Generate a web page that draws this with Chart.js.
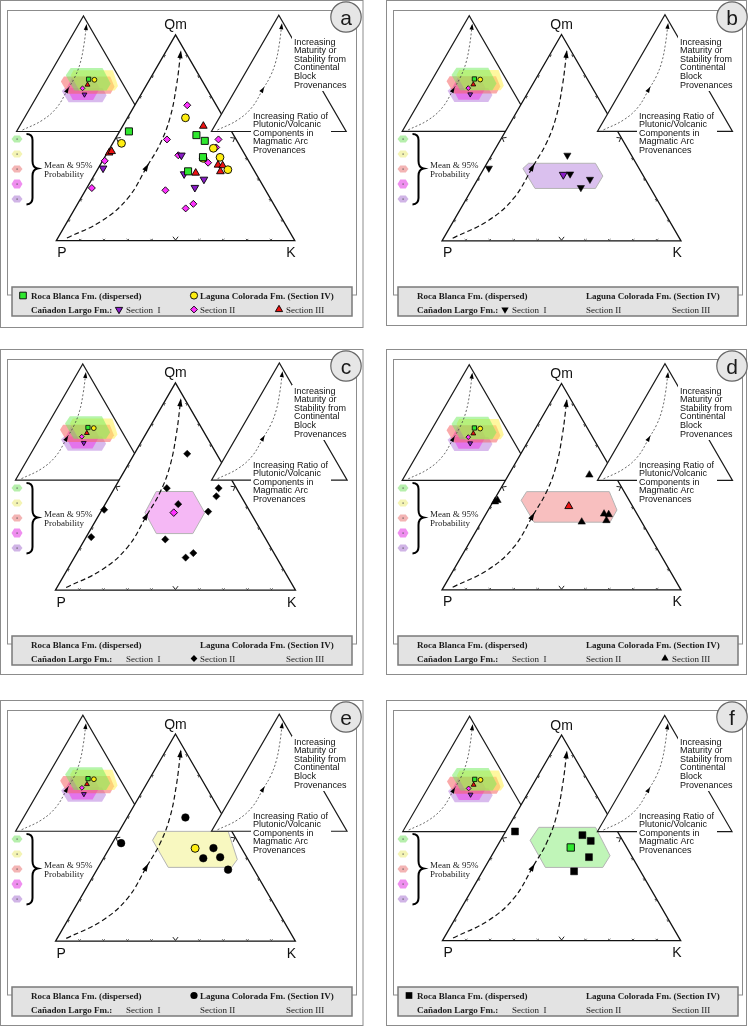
<!DOCTYPE html>
<html>
<head>
<meta charset="utf-8">
<title>Qm-P-K ternary diagrams</title>
<script src="https://cdn.jsdelivr.net/npm/chart.js@4.4.1/dist/chart.umd.min.js"></script>
<style>
html,body{margin:0;padding:0;background:#ffffff;width:748px;height:1027px;overflow:hidden;position:relative;}
canvas{position:absolute;display:block;}
</style>
</head>
<body>
<script>
// ---------------- DATA : compositions as [Qm, P, K] (%) ----------------
const rocaBlancaPts  = [[53.1,43.0,3.9],[51.3,15.6,33.1],[48.5,13.5,38.0],[40.6,18.2,41.2],[33.7,27.9,38.4]];
const rocaBlancaMean = [45.3,23.5,31.2];
const rocaBlancaHex  = [[55.1,32.0,12.9],[55.1,8.2,36.7],[41.3,9.0,49.7],[35.6,14.9,49.5],[35.6,39.0,25.4],[48.8,38.8,12.4]];

const lagunaPts  = [[59.7,16.0,24.3],[47.3,49.0,3.7],[44.9,11.7,43.4],[40.0,18.4,41.6],[40.5,11.1,48.4],[34.5,10.8,54.7]];
const lagunaMean = [44.8,19.4,35.8];
const lagunaHex  = [[53.0,30.9,16.1],[53.0,1.5,45.5],[39.4,4.5,56.1],[35.6,8.8,55.6],[35.6,35.2,29.2],[48.7,35.2,16.1]];

const sec1Pts  = [[35.2,62.8,2.0],[41.5,26.8,31.7],[32.4,30.2,37.4],[29.8,23.2,47.0],[25.8,29.0,45.2]];
const sec1Mean = [32.1,33.2,34.7];
const sec1Hex  = [[37.6,45.0,17.4],[37.6,17.0,45.4],[31.4,17.0,51.6],[25.4,23.1,51.5],[25.4,48.4,26.2],[35.1,48.6,16.3]];

const sec2Pts  = [[65.8,12.2,22.0],[49.2,29.0,21.8],[49.2,7.4,43.4],[45.3,10.3,44.4],[41.5,28.1,30.4],[37.9,17.4,44.7],[38.8,60.3,0.9],[25.6,72.3,2.1],[24.5,42.0,33.5],[17.9,33.6,48.5],[15.7,37.9,46.4]];
const sec2Mean = [37.4,32.0,30.6];
const sec2Hex  = [[47.6,34.2,18.2],[47.6,19.0,33.4],[37.4,19.1,43.5],[27.3,29.1,43.6],[27.3,44.3,28.4],[37.4,44.0,18.6]];

const sec3Pts  = [[55.7,10.5,33.8],[42.7,56.5,0.8],[43.4,55.1,1.5],[32.9,25.1,42.0],[36.8,13.8,49.4],[36.5,12.0,51.5],[33.6,14.4,52.0]];
const sec3Mean = [40.5,26.7,32.8];
const sec3Hex  = [[47.6,40.8,11.6],[47.6,6.2,46.2],[38.7,7.45,53.85],[32.8,13.3,53.9],[32.8,45.1,22.1],[43.4,45.2,11.4]];

// schematic maturity / plutonic-volcanic trend curve
const trendCurve = [[1.3,94.9,3.8],[9.8,75.8,14.4],[20.8,59.5,19.7],[36.4,43.6,20.0],[47.2,32.8,20.0],[59.8,22.4,17.8],[75.4,11.9,12.7],[91.8,1.9,6.3]];

const apexLabels   = ['Qm','P','K'];
const panelLabels  = ['a','b','c','d','e','f'];
const panelSeries  = [null,'I','II','III','IV','RB'];
const legendRow1   = ['Roca Blanca Fm. (dispersed)','Laguna Colorada Fm. (Section IV)'];
const legendRow2   = ['Cañadon Largo Fm.:','Section  I','Section II','Section III'];
const maturityText = ['Increasing','Maturity or','Stability from','Continental','Block','Provenances'];
const ratioText    = ['Increasing Ratio of','Plutonic/Volcanic','Components in','Magmatic Arc','Provenances'];
const meanText     = ['Mean & 95%','Probability'];

// ---------------- STYLE / LAYOUT ----------------
const SERIES = {
  RB:  {pts:rocaBlancaPts, mean:rocaBlancaMean, hex:rocaBlancaHex, style:'rect',     rot:0,   color:'#2fe82f', r:5.0, rb:4.9, rm:5.2, ri:3.0, rl:4.7,
        hexFill:'#c0f5b8', insetFill:'rgba(110,235,90,0.5)', swatch:'#b6efac', legend:[23,295.5]},
  IV:  {pts:lagunaPts, mean:lagunaMean, hex:lagunaHex, style:'circle', rot:0, color:'#ffee11', r:3.9, rb:3.8, rm:4.0, ri:2.4, rl:3.6,
        hexFill:'#f8f8c0', insetFill:'rgba(255,240,80,0.55)', swatch:'#f4f4b4', legend:[194,295.5]},
  III: {pts:sec3Pts, mean:sec3Mean, hex:sec3Hex, style:'triangle', rot:0, color:'#ee1111', r:4.4, rb:4.3, rm:4.6, ri:2.8, rl:4.2,
        hexFill:'#f8bfbf', insetFill:'rgba(245,100,100,0.55)', swatch:'#f3b4b4', legend:[279,309.5]},
  II:  {pts:sec2Pts, mean:sec2Mean, hex:sec2Hex, style:'rectRot', rot:0, color:'#ff33ff', r:3.5, rb:3.6, rm:3.8, ri:2.4, rl:3.4,
        hexFill:'#f5b8f5', insetFill:'rgba(235,70,235,0.6)', swatch:'#ef8eef', legend:[194,309.5]},
  I:   {pts:sec1Pts, mean:sec1Mean, hex:sec1Hex, style:'triangle', rot:180, color:'#8a1cc8', r:4.4, rb:4.2, rm:4.6, ri:2.8, rl:4.2,
        hexFill:'#dac0ee', insetFill:'rgba(190,140,225,0.6)', swatch:'#d0b4e6', legend:[119,309.5]}
};
const SWATCH_ORDER = ['RB','IV','III','II','I'];
const INSET_ORDER  = ['I','II','III','IV','RB'];
const A_ORDER      = {II:14, I:13, III:12, IV:11, RB:10};

const SQ = Math.sqrt(3)/2;
const CW = 386, CH = 350, PX0 = 52, PY0 = 243, TW = 246;
const XMIN = -PX0/TW, XMAX = (CW-PX0)/TW, YMIN = -(CH-PY0)/TW, YMAX = PY0/TW;
const INSET_L = {ox:(11-PX0)/TW,  oy:(PY0-130)/TW, s:138/TW};
const INSET_R = {ox:(212-PX0)/TW, oy:(PY0-130)/TW, s:139/TW};
const SANS  = '"Liberation Sans", Arial, sans-serif';
const SERIF = '"Liberation Serif", "Times New Roman", serif';
const panelPos = [[0,0],[386,0],[0,349],[386,349],[0,700],[386,700]];

function tern(v){ const s=v[0]+v[1]+v[2]; const q=v[0]/s, k=v[2]/s; return {x:k+q/2, y:q*SQ}; }
function inset(p,ins){ return {x:ins.ox+ins.s*p.x, y:ins.oy+ins.s*p.y}; }

function drawMarker(ctx, style, rot, x, y, r, fill, stroke, lw){
  ctx.beginPath();
  if(style==='circle'){ ctx.arc(x,y,r,0,Math.PI*2); }
  else if(style==='rect'){ const s=r*Math.SQRT1_2; ctx.rect(x-s,y-s,2*s,2*s); }
  else if(style==='rectRot'){ ctx.moveTo(x-r,y); ctx.lineTo(x,y-r); ctx.lineTo(x+r,y); ctx.lineTo(x,y+r); ctx.closePath(); }
  else { let a=rot*Math.PI/180; for(let i=0;i<3;i++){ const px=x+Math.sin(a)*r, py=y-Math.cos(a)*r; i?ctx.lineTo(px,py):ctx.moveTo(px,py); a+=2*Math.PI/3; } ctx.closePath(); }
  ctx.fillStyle=fill; ctx.fill();
  if(lw){ ctx.strokeStyle=stroke; ctx.lineWidth=lw; ctx.stroke(); }
}
function hexPath(ctx,cx,cy,w,h){
  ctx.beginPath();
  ctx.moveTo(cx-w/2,cy); ctx.lineTo(cx-w/4,cy-h/2); ctx.lineTo(cx+w/4,cy-h/2);
  ctx.lineTo(cx+w/2,cy); ctx.lineTo(cx+w/4,cy+h/2); ctx.lineTo(cx-w/4,cy+h/2); ctx.closePath();
}

function drawBackground(chart, idx){
  const ctx=chart.ctx, sx=chart.scales.x, sy=chart.scales.y;
  const key=panelSeries[idx], col=idx%2;
  const toPx=d=>({x:sx.getPixelForValue(d.x), y:sy.getPixelForValue(d.y)});
  const poly=pts=>{ ctx.beginPath(); pts.forEach((p,i)=>{ const q=toPx(p); i?ctx.lineTo(q.x,q.y):ctx.moveTo(q.x,q.y); }); ctx.closePath(); };
  const corners=[tern([0,100,0]), tern([0,0,100]), tern([100,0,0])];
  ctx.save();
  // frames
  ctx.strokeStyle='#8c8c8c'; ctx.lineWidth=1;
  ctx.strokeRect(0.5,0.5, col?360:362.5, idx===0?327:325);
  ctx.strokeRect(7.5,10.5,349,284.5);
  // left inset
  poly(corners.map(c=>inset(c,INSET_L))); ctx.fillStyle='#fff'; ctx.fill();
  ctx.strokeStyle='#1a1a1a'; ctx.lineWidth=1.2; ctx.stroke();
  INSET_ORDER.forEach(k=>{ poly(SERIES[k].hex.map(v=>inset(tern(v),INSET_L))); ctx.fillStyle=SERIES[k].insetFill; ctx.fill(); });
  // main triangle
  poly(corners); ctx.fillStyle='#fff'; ctx.fill();
  if(key){ const s=SERIES[key]; poly(s.hex.map(tern)); ctx.fillStyle=s.hexFill; ctx.fill(); ctx.strokeStyle='#b4b4b4'; ctx.lineWidth=1; ctx.stroke(); }
  poly(corners); ctx.strokeStyle='#111'; ctx.lineWidth=1.3; ctx.stroke();
  const pP=toPx(corners[0]), pK=toPx(corners[1]), pQ=toPx(corners[2]);
  const cen={x:(pP.x+pK.x+pQ.x)/3, y:(pP.y+pK.y+pQ.y)/3};
  [[pP,pK],[pP,pQ],[pK,pQ]].forEach(([a,b])=>{
    const L=Math.hypot(b.x-a.x,b.y-a.y), t={x:(b.x-a.x)/L, y:(b.y-a.y)/L};
    let n={x:-t.y, y:t.x};
    const m={x:(a.x+b.x)/2-cen.x, y:(a.y+b.y)/2-cen.y};
    if(n.x*m.x+n.y*m.y>0){ n={x:-n.x,y:-n.y}; }
    for(let i=1;i<10;i++){
      const p={x:a.x+(b.x-a.x)*i/10, y:a.y+(b.y-a.y)*i/10};
      const big=(i===5), d=big?4:1.8, w=big?2.6:1.2;
      ctx.beginPath();
      ctx.moveTo(p.x+n.x*d+t.x*w, p.y+n.y*d+t.y*w);
      ctx.lineTo(p.x+n.x*0.6, p.y+n.y*0.6);
      ctx.lineTo(p.x+n.x*d-t.x*w, p.y+n.y*d-t.y*w);
      ctx.strokeStyle='#222'; ctx.lineWidth=big?1:0.8; ctx.stroke();
    }
  });
  // right inset
  poly(corners.map(c=>inset(c,INSET_R))); ctx.fillStyle='#fff'; ctx.fill();
  ctx.strokeStyle='#1a1a1a'; ctx.lineWidth=1.2; ctx.stroke();
  // apex labels
  ctx.fillStyle='#111'; ctx.font='14px '+SANS;
  ctx.textAlign='center'; ctx.textBaseline='alphabetic';
  ctx.fillText(apexLabels[0], pQ.x, pQ.y-5.5);
  ctx.textAlign='left';
  ctx.fillText(apexLabels[1], pP.x+1, pP.y+16.5);
  ctx.fillText(apexLabels[2], pK.x-8.5, pK.y+16.5);
  // text blocks
  ctx.fillStyle='#fff'; ctx.fillRect(292,36,57,55);
  ctx.fillStyle='#111'; ctx.font='9px '+SANS;
  maturityText.forEach((s,i)=>ctx.fillText(s,294,44.5+i*8.6));
  ctx.fillStyle='#fff'; ctx.fillRect(251,111,80,45);
  ctx.fillStyle='#111';
  ratioText.forEach((s,i)=>ctx.fillText(s,253,118.5+i*8.65));
  // swatches + brace
  SWATCH_ORDER.forEach((k,i)=>{
    const cy=139+i*15, big=(k==='II');
    hexPath(ctx,17,cy,11,big?9:7); ctx.fillStyle=SERIES[k].swatch; ctx.fill();
    ctx.fillStyle='#555'; ctx.fillRect(16.5,cy-0.5,1.2,1.2);
  });
  ctx.beginPath();
  ctx.moveTo(26.5,134); ctx.quadraticCurveTo(32.5,134,32.5,140);
  ctx.lineTo(32.5,161); ctx.quadraticCurveTo(32.5,167.5,37.5,168.5);
  ctx.quadraticCurveTo(32.5,169.5,32.5,176); ctx.lineTo(32.5,198);
  ctx.quadraticCurveTo(32.5,204,26.5,204.5);
  ctx.strokeStyle='#000'; ctx.lineWidth=2; ctx.stroke();
  ctx.fillStyle='#222'; ctx.font='9px '+SERIF;
  ctx.fillText(meanText[0],44,167.5); ctx.fillText(meanText[1],44,176.5);
  // legend box
  ctx.fillStyle='#e3e3e3'; ctx.fillRect(12,287,340,29);
  ctx.strokeStyle='#7a7a7a'; ctx.lineWidth=1.5; ctx.strokeRect(12,287,340,29);
  ctx.fillStyle='#1a1a1a';
  ctx.font='bold 9px '+SERIF;
  ctx.fillText(legendRow1[0],31,298.5);
  ctx.fillText(legendRow1[1],200,298.5);
  ctx.fillText(legendRow2[0],31,312.5);
  ctx.font='9px '+SERIF;
  ctx.fillText(legendRow2[1],126,312.5);
  ctx.fillText(legendRow2[2],200,312.5);
  ctx.fillText(legendRow2[3],286,312.5);
  Object.keys(SERIES).forEach(k=>{
    const s=SERIES[k];
    if(key===null) drawMarker(ctx,s.style,s.rot,s.legend[0],s.legend[1],s.rl,s.color,'#000',0.9);
    else if(key===k) drawMarker(ctx,s.style,s.rot,s.legend[0],s.legend[1],s.rl,'#000','#000',0);
  });
  // panel letter
  ctx.beginPath(); ctx.arc(346,17,15.2,0,Math.PI*2);
  ctx.fillStyle='#e6e6e6'; ctx.fill(); ctx.strokeStyle='#666'; ctx.lineWidth=1.2; ctx.stroke();
  ctx.fillStyle='#1a1a1a'; ctx.font='21px '+SANS; ctx.textAlign='center';
  ctx.fillText(panelLabels[idx],346,24.5);
  ctx.restore();
}

function drawArrows(chart){
  const ctx=chart.ctx, sx=chart.scales.x, sy=chart.scales.y;
  const toPx=d=>({x:sx.getPixelForValue(d.x), y:sy.getPixelForValue(d.y)});
  const base=trendCurve.map(tern);
  const head=(tip,dx,dy,len,hw,ext)=>{
    const L=Math.hypot(dx,dy), u={x:dx/L,y:dy/L}, pr={x:-u.y,y:u.x};
    const t={x:tip.x+u.x*ext, y:tip.y+u.y*ext};
    const b={x:t.x-u.x*len, y:t.y-u.y*len};
    ctx.beginPath(); ctx.moveTo(t.x,t.y);
    ctx.lineTo(b.x+pr.x*hw,b.y+pr.y*hw); ctx.lineTo(b.x-pr.x*hw,b.y-pr.y*hw); ctx.closePath();
    ctx.fillStyle='#000'; ctx.fill();
  };
  ctx.save();
  [[p=>p,8,2.6],[p=>inset(p,INSET_L),6,2.1],[p=>inset(p,INSET_R),6,2.1]].forEach(([tr,len,hw])=>{
    const P=base.map(tr).map(toPx);
    head(P[7], P[7].x-P[6].x, P[7].y-P[6].y, len, hw, 1.5);
    head(P[3], P[4].x-P[2].x, P[4].y-P[2].y, len, hw, 2.5);
  });
  ctx.restore();
}

function pointDs(data, s, r, fill, stroke, bw, order){
  return {type:'scatter', data, order, showLine:false,
    pointStyle:s.style, pointRotation:s.rot, pointRadius:r, pointHoverRadius:r, pointHitRadius:0,
    pointBackgroundColor:fill, pointBorderColor:stroke, pointBorderWidth:bw, backgroundColor:fill, borderColor:stroke};
}

function buildDatasets(idx){
  const key=panelSeries[idx];
  const ds=[];
  const curve=trendCurve.map(tern);
  const line=(data,color,w,dash)=>({type:'scatter', data, showLine:true, order:50, borderColor:color, borderWidth:w,
    borderDash:dash, tension:0.4, pointRadius:0, pointHoverRadius:0, pointHitRadius:0, fill:false});
  ds.push(line(curve,'#111',1.2,[5,3]));
  ds.push(line(curve.map(p=>inset(p,INSET_L)),'#444',0.8,[2,2]));
  ds.push(line(curve.map(p=>inset(p,INSET_R)),'#444',0.8,[2,2]));
  INSET_ORDER.forEach((k,i)=>{ const s=SERIES[k]; ds.push(pointDs([inset(tern(s.mean),INSET_L)], s, s.ri, s.color, '#000', 0.8, 5-i)); });
  if(key===null){
    Object.keys(SERIES).forEach(k=>{ const s=SERIES[k]; ds.push(pointDs(s.pts.map(tern), s, s.r, s.color, '#000', 0.9, A_ORDER[k])); });
  } else {
    const s=SERIES[key];
    ds.push(pointDs(s.pts.map(tern), s, s.rb, '#000', '#000', 0.5, 20));
    ds.push(pointDs([tern(s.mean)], s, s.rm, s.color, '#000', 0.9, 0));
  }
  return ds;
}

panelLabels.forEach((lab,idx)=>{
  const cv=document.createElement('canvas');
  cv.width=CW; cv.height=CH;
  cv.style.left=panelPos[idx][0]+'px'; cv.style.top=panelPos[idx][1]+'px';
  cv.style.width=CW+'px'; cv.style.height=CH+'px';
  document.body.appendChild(cv);
  new Chart(cv,{
    type:'scatter',
    data:{datasets:buildDatasets(idx)},
    options:{
      responsive:false, animation:false, devicePixelRatio:1, events:[],
      layout:{padding:0},
      plugins:{legend:{display:false}, tooltip:{enabled:false}, title:{display:false}},
      scales:{
        x:{type:'linear', display:false, min:XMIN, max:XMAX, bounds:'data', grace:0},
        y:{type:'linear', display:false, min:YMIN, max:YMAX, bounds:'data', grace:0}
      }
    },
    plugins:[{id:'panel'+lab,
      beforeDatasetsDraw:(c)=>drawBackground(c,idx),
      afterDatasetsDraw:(c)=>drawArrows(c)}]
  });
});
</script>
</body>
</html>
